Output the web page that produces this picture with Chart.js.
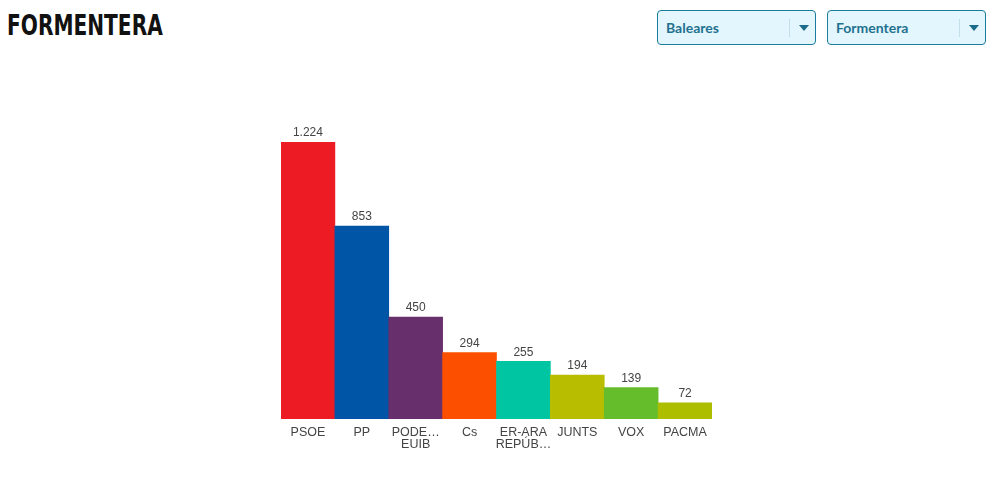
<!DOCTYPE html>
<html>
<head>
<meta charset="utf-8">
<script src="https://cdn.jsdelivr.net/npm/chart.js@4"></script>
<style>
    body { margin: 0; background: #fff; width: 996px; height: 495px; position: relative; overflow: hidden; }
    .title { position: absolute; left: 7px; top: 9px; font-family: "DejaVu Sans Condensed", sans-serif; font-weight: bold; font-size: 28px; color: #111; transform: scaleX(0.8); transform-origin: left top; }
    .select { position: absolute; top: 10px; width: 157px; height: 33px; border: 1px solid #1a7c9c; border-radius: 4px; background: #e3f6fd; }
    .select span { position: absolute; left: 8px; top: 8px; font-family: Lato, sans-serif; font-weight: bold; font-size: 14px; color: #1f7190; }
    .select .sep { position: absolute; left: 131px; top: 8px; width: 1px; height: 18px; background: #c2e0ea; }
    .select .arrow { position: absolute; left: 141px; top: 14px; width: 0; height: 0; border-left: 5px solid transparent; border-right: 5px solid transparent; border-top: 6px solid #1a6a8a; }
    .chart { position: absolute; left: 271px; top: 100px; width: 450px; height: 360px; }
</style>
</head>
<body>
<div class="title">FORMENTERA</div>
<div class="select" style="left:657px"><span>Baleares</span><div class="sep"></div><div class="arrow"></div></div>
<div class="select" style="left:827px"><span>Formentera</span><div class="sep"></div><div class="arrow"></div></div>
<div class="chart"><canvas id="votes"></canvas></div>
<script>
// Data
const parties = [["PSOE"], ["PP"], ["PODE…", "EUIB"], ["Cs"], ["ER-ARA", "REPÚB…"], ["JUNTS"], ["VOX"], ["PACMA"]];
const votes = [1224, 853, 450, 294, 255, 194, 139, 72];
const colors = ["#ed1c24", "#0055a6", "#672f6b", "#fc5000", "#00c5a3", "#b9bd00", "#66bd2b", "#adbe00"];

// Helpers
const formatVotes = (v) => String(v).replace(/\B(?=(\d{3})+(?!\d))/g, ".");

// Plugin: value labels above bars
const valueLabels = {
    id: "valueLabels",
    afterDatasetsDraw(chart) {
        let ctx = chart.ctx;
        let meta = chart.getDatasetMeta(0);
        ctx.save();
        ctx.font = "12px 'Liberation Sans', Arial, sans-serif";
        ctx.fillStyle = "#444";
        ctx.textAlign = "center";
        ctx.textBaseline = "bottom";
        meta.data.forEach((bar, i) => {
            ctx.fillText(formatVotes(votes[i]), bar.x, bar.y - 3);
        });
        ctx.restore();
    }
};

// Chart
new Chart(document.querySelector("#votes"), {
    type: "bar",
    data: {
        labels: parties,
        datasets: [{
            data: votes,
            backgroundColor: colors,
            borderWidth: 0,
            categoryPercentage: 1,
            barPercentage: 1
        }]
    },
    options: {
        responsive: true,
        maintainAspectRatio: false,
        animation: false,
        layout: { padding: { top: 42, left: 10, right: 9, bottom: 0 } },
        plugins: { legend: { display: false }, tooltip: { enabled: false } },
        scales: {
            x: {
                grid: { display: false },
                border: { display: false },
                ticks: {
                    autoSkip: false,
                    maxRotation: 0,
                    padding: 0,
                    color: "#444",
                    font: { family: "'Liberation Sans', Arial, sans-serif", size: 12.5, lineHeight: 0.96 }
                },
                afterFit: (scale) => { scale.height = 41; }
            },
            y: {
                display: false,
                min: 0,
                max: 1224
            }
        }
    },
    plugins: [valueLabels]
});
</script>
</body>
</html>
